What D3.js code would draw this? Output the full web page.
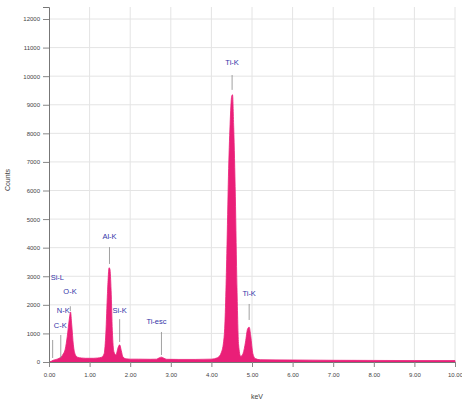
<!DOCTYPE html>
<html>
<head>
<meta charset="utf-8">
<script src="https://cdn.jsdelivr.net/npm/d3@7"></script>
<style>
body { margin: 0; background: #fff; }
</style>
</head>
<body>
<script>
// spectrum (keV, counts)
const energy = [0.00, 0.05, 0.10, 0.15, 0.20, 0.25, 0.30, 0.35, 0.40, 0.45, 0.50, 0.53, 0.56, 0.60, 0.65, 0.70, 0.80, 0.90, 1.00, 1.10, 1.20, 1.30, 1.36, 1.40, 1.44, 1.48, 1.50, 1.53, 1.56, 1.60, 1.65, 1.70, 1.74, 1.78, 1.82, 1.90, 2.00, 2.20, 2.50, 2.65, 2.72, 2.77, 2.82, 2.90, 3.20, 3.60, 4.00, 4.15, 4.25, 4.32, 4.38, 4.42, 4.46, 4.50, 4.52, 4.55, 4.59, 4.63, 4.67, 4.72, 4.78, 4.84, 4.89, 4.93, 4.97, 5.02, 5.08, 5.20, 6.00, 7.00, 8.00, 9.00, 10.00]
const counts = [0, 20, 60, 80, 100, 130, 180, 280, 450, 900, 1500, 1750, 1300, 600, 250, 170, 140, 130, 130, 130, 140, 170, 300, 1000, 2400, 3300, 3250, 2500, 1100, 350, 250, 500, 600, 400, 180, 110, 100, 100, 95, 100, 150, 170, 140, 95, 90, 90, 100, 150, 350, 1000, 3800, 6500, 8300, 9300, 9350, 8200, 5800, 2600, 600, 200, 300, 700, 1150, 1220, 900, 300, 120, 80, 70, 60, 55, 50, 50]

const xTicks = [0, 1, 2, 3, 4, 5, 6, 7, 8, 9, 10]
const yTicks = [0, 1000, 2000, 3000, 4000, 5000, 6000, 7000, 8000, 9000, 10000, 11000, 12000]

// element markers
const markName = ['Si-L', 'C-K', 'N-K', 'O-K', 'Al-K', 'Si-K', 'Ti-esc', 'Ti-K', 'Ti-K']
const markEnergy = [0.09, 0.29, 0.39, 0.525, 1.49, 1.74, 2.77, 4.51, 4.93]
const labelCount = [2870, 1190, 1715, 2380, 4300, 1715, 1330, 10390, 2310]
const lineTop = [770, 945, 0, 1950, 4020, 1500, 1050, 10040, 2030]
const lineBottom = [140, 140, 0, 1780, 3430, 700, 245, 9520, 1470]

function main(){
    const width = 462
    const height = 400
    const margin = {top: 7, right: 7, bottom: 38, left: 49}

    const svg = d3.select('body').append('svg')
        .attr('width', width)
        .attr('height', height)
        .style('font-family', 'Liberation Sans, Arial, sans-serif')

    const x = d3.scaleLinear().domain([0, 10]).range([margin.left, width - margin.right])
    const y = d3.scaleLinear().domain([0, 12420]).range([height - margin.bottom, margin.top])

    // grid
    svg.append('g').selectAll('line.v')
        .data(xTicks.slice(1))
        .enter().append('line')
        .attr('x1', d => x(d)).attr('x2', d => x(d))
        .attr('y1', y.range()[1]).attr('y2', y(0))
        .attr('stroke', '#e4e4e4')
    svg.append('g').selectAll('line.h')
        .data(yTicks.slice(1))
        .enter().append('line')
        .attr('x1', x(0)).attr('x2', x(10))
        .attr('y1', d => y(d)).attr('y2', d => y(d))
        .attr('stroke', '#e4e4e4')

    // spectrum
    const area = d3.area()
        .x((d, i) => x(energy[i]))
        .y0(y(0))
        .y1((d, i) => y(d))
        .curve(d3.curveMonotoneX)
    svg.append('path')
        .datum(counts)
        .attr('d', area)
        .attr('fill', '#ea1f78')
        .attr('stroke', '#ea1f78')
        .attr('stroke-width', 0.8)

    // axes
    const xAxis = svg.append('g')
        .attr('transform', `translate(0,${y(0)})`)
        .call(d3.axisBottom(x).tickValues(xTicks).tickFormat(d3.format('.2f')).tickSize(5).tickPadding(6))
    const yAxis = svg.append('g')
        .attr('transform', `translate(${x(0)},0)`)
        .call(d3.axisLeft(y).tickValues(yTicks).tickFormat(d => d).tickSize(6).tickPadding(3))
    for (const ax of [xAxis, yAxis]) {
        ax.select('.domain').attr('stroke', '#777')
        ax.selectAll('.tick line').attr('stroke', '#888')
        ax.selectAll('.tick text').attr('fill', '#444').style('font-size', '6px')
    }

    // marker lines and labels
    svg.append('g').selectAll('line')
        .data(markEnergy)
        .enter().append('line')
        .filter((d, i) => lineTop[i] > 0)
        .attr('x1', d => x(d)).attr('x2', d => x(d))
        .attr('y1', d => y(lineTop[markEnergy.indexOf(d)]))
        .attr('y2', d => y(lineBottom[markEnergy.indexOf(d)]))
        .attr('stroke', '#8a8a8a')
        .attr('stroke-width', 0.8)
    svg.append('g').selectAll('text')
        .data(markName)
        .enter().append('text')
        .attr('x', (d, i) => x(markEnergy[i]))
        .attr('y', (d, i) => y(labelCount[i]))
        .attr('text-anchor', (d, i) => i < 4 ? 'start' : 'middle')
        .attr('dx', (d, i) => [-2, -7, -8, -7, 0, 0, -5, 0, 0][i])
        .attr('fill', '#3434a8')
        .style('font-size', '7.5px')
        .text(d => d)

    svg.append('text')
        .attr('transform', `translate(10,180) rotate(-90)`)
        .attr('text-anchor', 'middle')
        .attr('fill', '#444')
        .style('font-size', '7px')
        .text('Counts')
    svg.append('text')
        .attr('x', 257).attr('y', 399)
        .attr('text-anchor', 'middle')
        .attr('fill', '#444')
        .style('font-size', '7px')
        .text('keV')
}

main()
</script>
</body>
</html>
